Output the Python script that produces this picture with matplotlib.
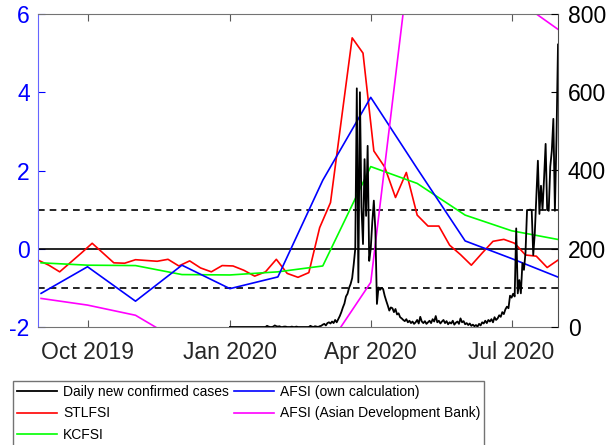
import matplotlib
matplotlib.use("Agg")
import matplotlib.pyplot as plt
import matplotlib.dates as mdates
import pandas as pd

plt.rcParams['font.family'] = ['Liberation Sans', 'DejaVu Sans']
plt.rcParams['axes.unicode_minus'] = False

# STLFSI, weekly (Fridays)
stl_dates = pd.date_range('2019-08-30', '2020-07-31', freq='7D')
stlfsi = [-0.29, -0.42, -0.59, -0.35, -0.11, 0.14, -0.11, -0.36, -0.37, -0.28,
          -0.30, -0.32, -0.27, -0.44, -0.31, -0.49, -0.59, -0.43, -0.44, -0.55,
          -0.70, -0.59, -0.27, -0.63, -0.73, -0.61, 0.54, 1.18, 3.29, 5.39,
          5.00, 2.50, 2.09, 1.31, 1.95, 0.86, 0.58, 0.58, 0.09, -0.15,
          -0.42, -0.11, 0.19, 0.24, 0.14, -0.16, -0.19, -0.48, -0.29]

# monthly indices
month_dates = pd.date_range('2019-09-01', '2020-08-01', freq='MS')
afsi_own = [-1.14, -0.46, -1.34, -0.42, -1.02, -0.72, 1.75, 3.87, 2.05, 0.20, -0.25, -0.74]
kcfsi = [-0.36, -0.42, -0.43, -0.66, -0.67, -0.59, -0.44, 2.10, 1.67, 0.86, 0.46, 0.23]
afsi_adb = [-1.27, -1.44, -1.70, -2.40, -2.55, -2.65, -2.69, -0.86, 9.00, 8.20, 6.45, 5.58]

# daily new confirmed cases, Jan 1 - Jul 31 2020
case_dates = pd.date_range('2020-01-01', '2020-07-31', freq='D')
cases_jan = [0, 0, 0, 0, 0, 0, 0, 0, 0, 0, 0, 0, 0, 0, 0, 0, 0, 0, 0, 0,
             0, 0, 0, 0, 3, 1, 0, 0, 1, 4, 2]
cases_feb = [1, 2, 0, 0, 1, 1, 0, 0, 0, 1, 0, 0, 1, 0, 0, 0, 0, 0, 0, 0,
             0, 3, 1, 0, 2, 1, 0, 2, 3]
cases_mar = [6, 8, 4, 10, 12, 9, 14, 10, 18, 12, 20, 28, 38, 50, 60, 78, 85, 100, 110, 125,
             160, 200, 610, 114, 600, 306, 212, 429, 284, 463, 169]
cases_apr = [200, 268, 323, 246, 59, 101, 95, 100, 97, 80, 67, 55, 42, 50, 48, 38, 46, 32, 35, 25,
             22, 18, 15, 20, 12, 16, 10, 14, 8, 12]
cases_may = [18, 9, 26, 14, 10, 15, 8, 12, 16, 10, 20, 14, 28, 12, 16, 9, 14, 18, 10, 15,
             7, 12, 9, 16, 6, 11, 14, 8, 22, 12, 15]
cases_jun = [7, 10, 5, 9, 3, 6, 2, 5, 1, 8, 4, 12, 9, 16, 10, 18, 14, 20, 12, 25,
             18, 22, 30, 26, 38, 33, 45, 52, 48, 80]
cases_jul = [75, 85, 78, 252, 86, 120, 86, 163, 146, 190, 299, 299, 300, 299, 184, 240, 330, 425, 289, 361,
             300, 380, 468, 300, 297, 410, 450, 532, 297, 480, 722]
cases = cases_jan + cases_feb + cases_mar + cases_apr + cases_may + cases_jun + cases_jul

fig = plt.figure(figsize=(6.08, 4.45), dpi=100)
ax = fig.add_axes([38 / 608, 118 / 445, 520 / 608, 313 / 445])
ax2 = ax.twinx()

lw = 1.2
ax.axhline(0, color='k', lw=lw)
ax.axhline(1, color='k', lw=lw, ls=(0, (4, 3)))
ax.axhline(-1, color='k', lw=lw, ls=(0, (4, 3)))

l_stl, = ax.plot(stl_dates, stlfsi, color='#ff0000', lw=lw, label='STLFSI')
l_kc, = ax.plot(month_dates, kcfsi, color='#00ff00', lw=lw, label='KCFSI')
l_own, = ax.plot(month_dates, afsi_own, color='#0000ff', lw=lw, label='AFSI (own calculation)')
l_adb, = ax.plot(month_dates, afsi_adb, color='#ff00ff', lw=lw, label='AFSI (Asian Development Bank)')
l_cases, = ax2.plot(case_dates, cases, color='k', lw=1.3, label='Daily new confirmed cases')

ax.set_xlim(pd.Timestamp('2019-08-30'), pd.Timestamp('2020-07-31'))
ax.set_ylim(-2, 6)
ax.set_yticks([-2, 0, 2, 4, 6])
ax2.set_ylim(0, 800)
ax2.set_yticks([0, 200, 400, 600, 800])

ax.set_xticks(pd.to_datetime(['2019-10-01', '2020-01-01', '2020-04-01', '2020-07-01']))
ax.xaxis.set_major_formatter(mdates.DateFormatter('%b %Y'))

ax.tick_params(axis='x', direction='in', length=5, top=True, labelsize=16.5,
               labelcolor='0.15', color='0.35', pad=10)
ax.tick_params(axis='y', direction='in', length=5, labelsize=16.5,
               colors='#0000ff', pad=6)
ax2.tick_params(axis='y', direction='in', length=5, labelsize=16.5,
                colors='k', pad=7)

for s in ['top', 'right', 'bottom', 'left']:
    ax2.spines[s].set_visible(s == 'right')
ax.spines['right'].set_visible(False)
ax.spines['left'].set_color('#6666ff')
ax.spines['top'].set_color('0.45')
ax.spines['bottom'].set_color('0.45')
ax2.spines['right'].set_color('0.3')

fig.legend(handles=[l_cases, l_stl, l_kc, l_own, l_adb], ncol=2,
           loc='upper left', bbox_to_anchor=(13 / 608, 1 - 381 / 445),
           fontsize=10, frameon=True, fancybox=False, framealpha=1,
           edgecolor='0.45', handlelength=2.9, handletextpad=0.4,
           columnspacing=0.35, labelspacing=0.52, borderaxespad=0, borderpad=0.3)

fig.savefig('out.png', dpi=100)
